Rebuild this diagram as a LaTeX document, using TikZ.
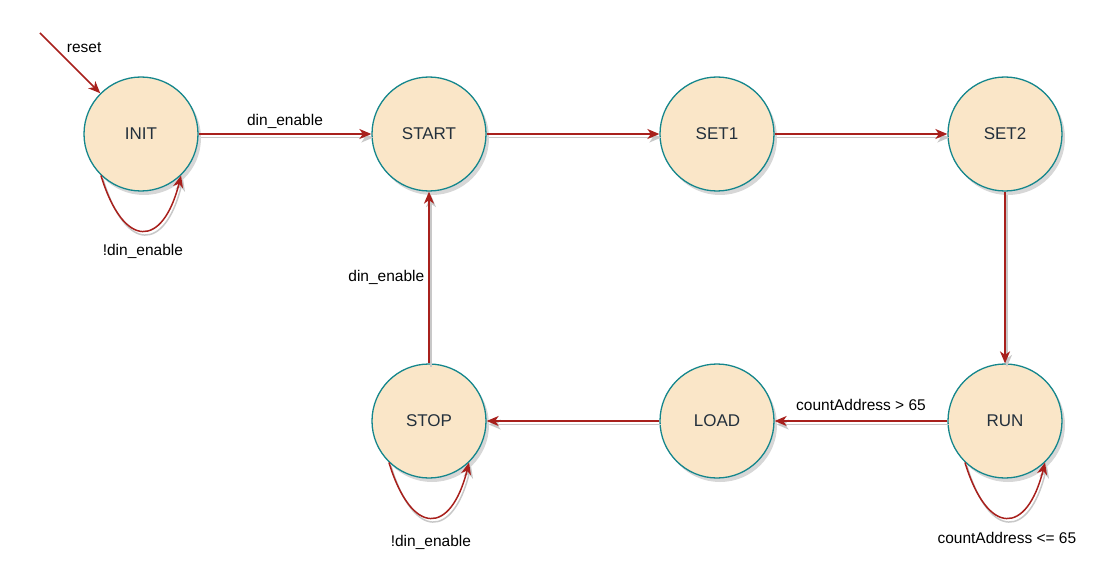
\documentclass[tikz,border=0pt]{standalone}
\usepackage{fontspec}
\setmainfont{Liberation Sans}
\usetikzlibrary{arrows.meta,calc}
\definecolor{statefill}{HTML}{FAE6C8}
\definecolor{statedraw}{HTML}{14868C}
\definecolor{edgered}{HTML}{A8201C}
\definecolor{statetext}{HTML}{23303C}
\definecolor{shadowgray}{HTML}{C8C8C8}
\tikzset{
  state/.style={circle, minimum size=114pt, inner sep=0pt, fill=statefill, draw=statedraw, line width=1.3pt,
    text=statetext, font=\fontsize{17}{19}\selectfont},
  stateshadow/.style={circle, minimum size=114pt, inner sep=0pt, fill=black!35, draw=none},
  tipx/.tip={Stealth[length=12pt,width=10pt,inset=3.5pt]},
  trans/.style={draw=edgered, line width=1.5pt, -tipx},
  transshadow/.style={draw=shadowgray, line width=1.5pt, -tipx, transform canvas={shift={(2,3.5)}}},
  lbl/.style={font=\fontsize{15.5}{18}\selectfont, text=black, inner sep=2pt},
}
\begin{document}
\begin{tikzpicture}[x=1pt,y=-1pt]
\useasboundingbox (0,0) rectangle (1120,583);
% shadows of states
\foreach \x/\y in {141/134,429/134,717/134,1005/134,1005/421,717/421,429/421}{
  \node[stateshadow, opacity=0.45] at (\x+3,\y+4) {};
}
\node[state] (INIT) at (141,134) {INIT};
\node[state] (START) at (429,134) {START};
\node[state] (SET1) at (717,134) {SET1};
\node[state] (SET2) at (1005,134) {SET2};
\node[state] (RUN) at (1005,421) {RUN};
\node[state] (LOAD) at (717,421) {LOAD};
\node[state] (STOP) at (429,421) {STOP};
\coordinate (rs) at (40,33);
% shadow lines
\draw[transshadow] (INIT.east) -- (START.west);
\draw[transshadow] (START.east) -- (SET1.west);
\draw[transshadow] (SET1.east) -- (SET2.west);
\draw[transshadow] (SET2.south) -- (RUN.north);
\draw[transshadow] (RUN.west) -- (LOAD.east);
\draw[transshadow] (LOAD.west) -- (STOP.east);
\draw[transshadow] (STOP.north) -- (START.south);
\draw[transshadow] (INIT.226) .. controls +(23,75) and +(-18,72) .. (INIT.314);
\draw[transshadow] (STOP.226) .. controls +(23,75) and +(-18,72) .. (STOP.314);
\draw[transshadow] (RUN.226) .. controls +(23,75) and +(-18,72) .. (RUN.314);
% transitions
\draw[trans] (rs) -- node[lbl, pos=0.5, xshift=14pt, yshift=16pt]{reset} (INIT.135);
\draw[trans] (INIT.east) -- node[lbl, above=3pt]{din\_enable} (START.west);
\draw[trans] (START.east) -- (SET1.west);
\draw[trans] (SET1.east) -- (SET2.west);
\draw[trans] (SET2.south) -- (RUN.north);
\draw[trans] (RUN.west) -- node[lbl, above=8pt]{countAddress > 65} (LOAD.east);
\draw[trans] (LOAD.west) -- (STOP.east);
\draw[trans] (STOP.north) -- node[lbl, left=2pt]{din\_enable} (START.south);
\draw[trans] (INIT.226) .. controls +(23,75) and +(-18,72) .. node[lbl, pos=0.5, below=11pt]{!din\_enable} (INIT.314);
\draw[trans] (STOP.226) .. controls +(23,75) and +(-18,72) .. node[lbl, pos=0.5, below=15pt]{!din\_enable} (STOP.314);
\draw[trans] (RUN.226) .. controls +(23,75) and +(-18,72) .. node[lbl, pos=0.5, below=12pt]{countAddress <= 65} (RUN.314);
\end{tikzpicture}
\end{document}
